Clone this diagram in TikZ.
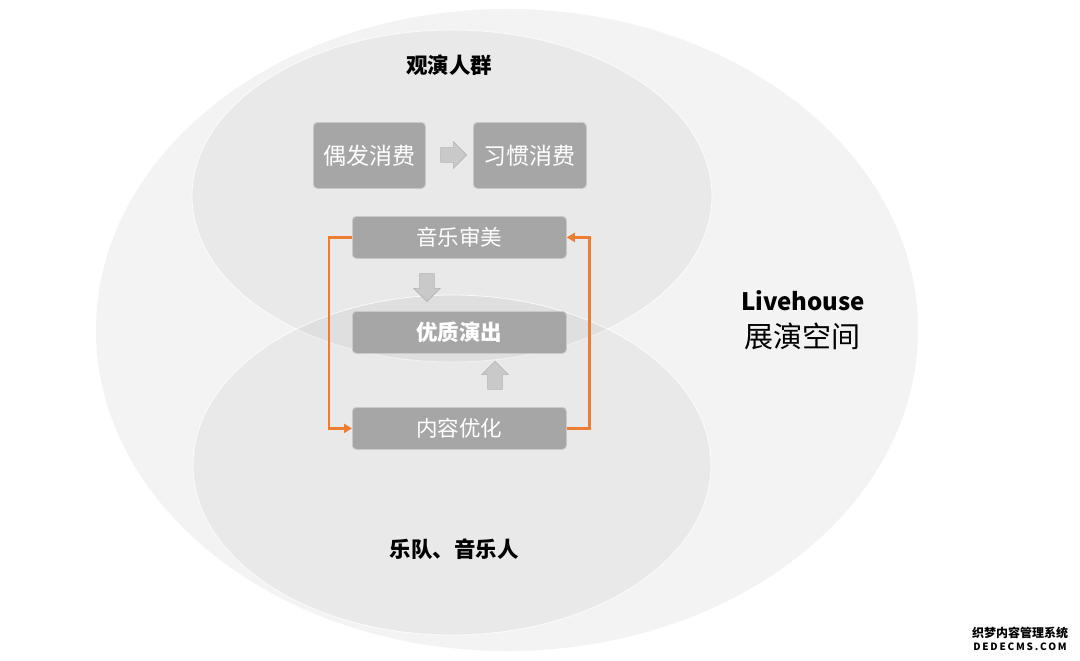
\documentclass[tikz,border=0pt]{standalone}
\usepackage{fontspec}
\setmainfont{Noto Sans CJK SC}
\newfontfamily\cjk{Noto Sans CJK SC}
\newfontfamily\cjkspaced[LetterSpace=18]{Noto Sans CJK SC}
\usetikzlibrary{shapes.arrows,arrows.meta}
\definecolor{bigfill}{HTML}{F3F3F3}
\definecolor{boxfill}{HTML}{A6A6A6}
\definecolor{boxedge}{HTML}{C9C9C9}
\definecolor{arrfill}{HTML}{C9C9C9}
\definecolor{arredge}{HTML}{B5B5B5}
\definecolor{orangeline}{HTML}{ED7D31}
\newcommand{\shaft}{\rule{14pt}{14pt}}
\tikzset{
  graybox/.style={fill=boxfill, draw=boxedge, line width=0.8pt, rounded corners=4pt, text=white, font=\cjk\fontsize{21.5}{24}\selectfont, inner sep=0pt, anchor=north west},
  blockarrow/.style={single arrow, fill=arrfill, draw=arredge, line width=0.6pt, single arrow head extend=6pt, single arrow tip angle=90, inner sep=0pt, text=arrfill},
  loopline/.style={draw=orangeline, line width=2.8pt, -{Triangle[length=8pt,width=9pt]}},
  title/.style={font=\cjk\bfseries\fontsize{21.5}{25}\selectfont, text=black},
}
\begin{document}
\begin{tikzpicture}[x=1pt,y=-1pt]
\useasboundingbox (0,0) rectangle (1080,661);
\fill[white] (0,0) rectangle (1080,661);
% outer ellipse
\fill[bigfill] (507,330) ellipse [x radius=411, y radius=321];
% inner ellipses
\draw[fill=black, fill opacity=0.04, draw=white, draw opacity=0.8, line width=0.8pt] (452,196) ellipse [x radius=260, y radius=166];
\draw[fill=black, fill opacity=0.04, draw=white, draw opacity=0.8, line width=0.8pt] (452,465) ellipse [x radius=259, y radius=170];
% labels
\node[title] (aud) at (449,65) {观演人群};
\node[title] (band) at (454,549) {乐队、音乐人};
\node[font=\cjk\bfseries\fontsize{24}{28}\selectfont] (lh) at (803,301) {Livehouse};
\node[font=\cjk\fontsize{29}{32}\selectfont] (space) at (802,336) {展演空间};
% top boxes
\node[graybox, minimum width=112pt, minimum height=66pt, font=\cjk\fontsize{23}{26}\selectfont] (occ) at (313,122) {偶发消费};
\node[graybox, minimum width=113pt, minimum height=66pt, font=\cjk\fontsize{23}{26}\selectfont] (hab) at (473,122) {习惯消费};
\node[blockarrow, minimum height=26pt] (a1) at (450,155) {\shaft};
% loop boxes
\node[graybox, minimum width=214pt, minimum height=42pt] (aes) at (352,216) {音乐审美};
\node[graybox, minimum width=214pt, minimum height=42pt, font=\cjk\bfseries\fontsize{21.5}{24}\selectfont] (qual) at (352,311) {优质演出};
\node[graybox, minimum width=214pt, minimum height=42pt] (cont) at (352,407) {内容优化};
\node[blockarrow, shape border rotate=270, minimum height=28pt] (a2) at (427,284) {\shaft};
\node[blockarrow, shape border rotate=90, minimum height=28pt] (a3) at (495,379) {\shaft};
% orange loop
\draw[loopline] (aes.west) -- ++(-23,0) |- (cont.west);
\draw[loopline] (cont.east) -- ++(23,0) |- (aes.east);
% watermark
\node[font=\cjk\bfseries\fontsize{12}{13}\selectfont, text=black] (wm1) at (1020,633) {织梦内容管理系统};
\node[font=\cjkspaced\bfseries\fontsize{10}{11}\selectfont, text=black] (wm2) at (1020,647) {DEDECMS.COM};
\end{tikzpicture}
\end{document}
